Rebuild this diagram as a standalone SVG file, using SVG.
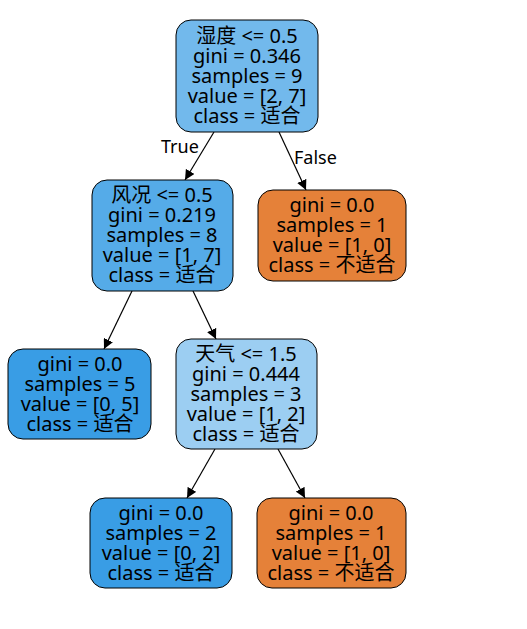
<svg xmlns="http://www.w3.org/2000/svg" width="527" height="629" viewBox="0 0 527 629">
<defs>
<marker id="arr" viewBox="0 0 10 10" refX="10" refY="5" markerWidth="10" markerHeight="10" markerUnits="userSpaceOnUse" orient="auto">
<path d="M0,0 L10,5 L0,10 z" fill="#000"/>
</marker>
<style>
.n{stroke:#000;stroke-width:1}
.t{font-family:"Noto Sans","Noto Sans CJK SC",sans-serif;font-size:20px;text-anchor:middle;fill:#000}
.e{stroke:#000;stroke-width:1.2;fill:none;marker-end:url(#arr)}
.l{font-family:"Noto Sans",sans-serif;font-size:18px;fill:#000}
</style>
</defs>
<rect width="527" height="629" fill="#fff"/>
<g id="edges">
<line class="e" x1="214" y1="132" x2="185" y2="180"/>
<text class="l" x="161" y="153">True</text>
<line class="e" x1="279" y1="132" x2="306" y2="190"/>
<text class="l" x="294" y="164">False</text>
<line class="e" x1="132" y1="291" x2="104" y2="349"/>
<line class="e" x1="193" y1="291" x2="216" y2="339"/>
<line class="e" x1="215" y1="449" x2="187" y2="498"/>
<line class="e" x1="278" y1="449" x2="305" y2="498"/>
</g>
<g id="node0">
<rect class="n" x="176" y="20" width="142" height="112" rx="15" fill="#72b9ec"/>
<text class="t" x="247" y="43">湿度 &lt;= 0.5</text>
<text class="t" x="247" y="63">gini = 0.346</text>
<text class="t" x="247" y="83">samples = 9</text>
<text class="t" x="247" y="103">value = [2, 7]</text>
<text class="t" x="247" y="123">class = 适合</text>
</g>
<g id="node1">
<rect class="n" x="92" y="180" width="141" height="111" rx="15" fill="#55abe8"/>
<text class="t" x="162" y="202">风况 &lt;= 0.5</text>
<text class="t" x="162" y="222">gini = 0.219</text>
<text class="t" x="162" y="242">samples = 8</text>
<text class="t" x="162" y="262">value = [1, 7]</text>
<text class="t" x="162" y="282">class = 适合</text>
</g>
<g id="node6">
<rect class="n" x="258" y="190" width="148" height="91" rx="15" fill="#e58139"/>
<text class="t" x="332" y="212">gini = 0.0</text>
<text class="t" x="332" y="232">samples = 1</text>
<text class="t" x="332" y="252">value = [1, 0]</text>
<text class="t" x="332" y="272">class = 不适合</text>
</g>
<g id="node2">
<rect class="n" x="8" y="349" width="143" height="90" rx="15" fill="#399de5"/>
<text class="t" x="80" y="371">gini = 0.0</text>
<text class="t" x="80" y="391">samples = 5</text>
<text class="t" x="80" y="411">value = [0, 5]</text>
<text class="t" x="80" y="431">class = 适合</text>
</g>
<g id="node3">
<rect class="n" x="176" y="339" width="141" height="110" rx="15" fill="#9ccef2"/>
<text class="t" x="246" y="361">天气 &lt;= 1.5</text>
<text class="t" x="246" y="381">gini = 0.444</text>
<text class="t" x="246" y="401">samples = 3</text>
<text class="t" x="246" y="421">value = [1, 2]</text>
<text class="t" x="246" y="441">class = 适合</text>
</g>
<g id="node4">
<rect class="n" x="90" y="498" width="142" height="90" rx="15" fill="#399de5"/>
<text class="t" x="161" y="520">gini = 0.0</text>
<text class="t" x="161" y="540">samples = 2</text>
<text class="t" x="161" y="560">value = [0, 2]</text>
<text class="t" x="161" y="580">class = 适合</text>
</g>
<g id="node5">
<rect class="n" x="257" y="498" width="149" height="90" rx="15" fill="#e58139"/>
<text class="t" x="331" y="520">gini = 0.0</text>
<text class="t" x="331" y="540">samples = 1</text>
<text class="t" x="331" y="560">value = [1, 0]</text>
<text class="t" x="331" y="580">class = 不适合</text>
</g>
</svg>
